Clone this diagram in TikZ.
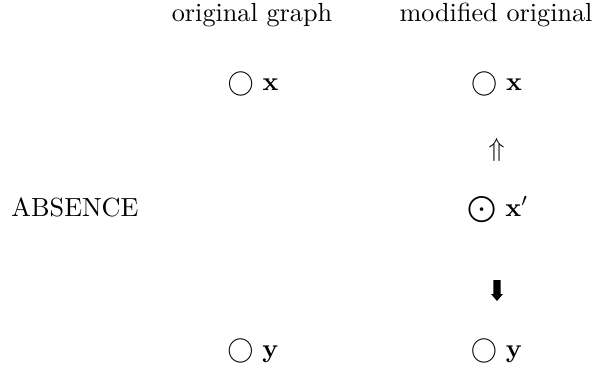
\documentclass[tikz,border=0pt]{standalone}
\begin{document}
\begin{tikzpicture}[x=0.3817pt,y=-0.3817pt,
  lbl/.style={anchor=base,inner sep=0pt,outer sep=0pt}]
\useasboundingbox (0,0) rectangle (596,367);
\node[lbl] (hl) at (252,21) {original graph};
\node[lbl] (hr) at (496,21) {modified original};
\node[lbl] (xl) at (253,90) {$\bigcirc$ $\mathbf{x}$};
\node[lbl] (xr) at (496.5,90) {$\bigcirc$ $\mathbf{x}$};
\node[lbl] (up) at (496.5,156) {$\Uparrow$};
\node[lbl] (abs) at (75,216) {ABSENCE};
\node[lbl] (xp) at (498,216) {$\bigodot$ $\mathbf{x}'$};
\coordinate (dn) at (497,280);
\fill (dn) ++(-3.7,0) -- ++(7.4,0) -- ++(0,14) -- ++(2.3,0) -- ++(-6,7)
  -- ++(-6,-7) -- ++(2.3,0) -- cycle;
\node[lbl] (yl) at (253,357) {$\bigcirc$ $\mathbf{y}$};
\node[lbl] (yr) at (496.5,357) {$\bigcirc$ $\mathbf{y}$};
\end{tikzpicture}
\end{document}
